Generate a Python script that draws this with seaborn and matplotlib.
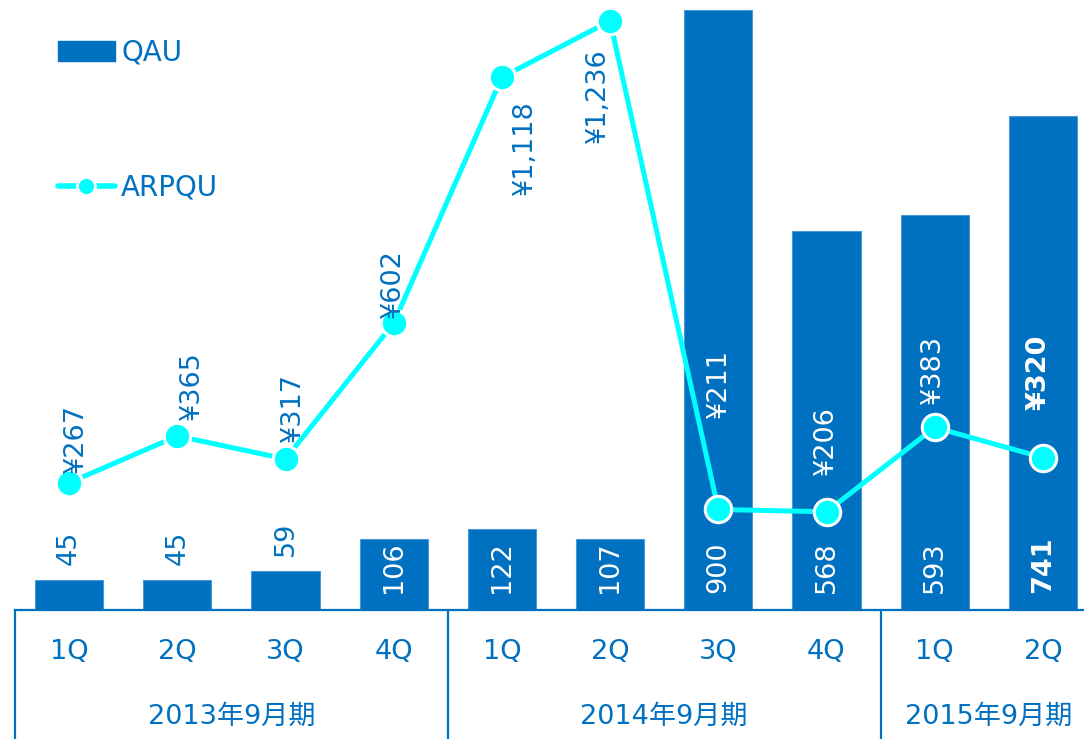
import numpy as np
import pandas as pd
import matplotlib
matplotlib.use("Agg")
import matplotlib.pyplot as plt
from matplotlib.patches import Patch
from matplotlib.lines import Line2D
import seaborn as sns

# ---- data ----
periods = ["FY13-1Q", "FY13-2Q", "FY13-3Q", "FY13-4Q",
           "FY14-1Q", "FY14-2Q", "FY14-3Q", "FY14-4Q",
           "FY15-1Q", "FY15-2Q"]
quarter_labels = ["1Q", "2Q", "3Q", "4Q", "1Q", "2Q", "3Q", "4Q", "1Q", "2Q"]
qau = [45, 45, 59, 106, 122, 107, 900, 568, 593, 741]
arpqu = [267, 365, 317, 602, 1118, 1236, 211, 206, 383, 320]
year_labels = ["2013年9月期", "2014年9月期", "2015年9月期"]
year_sizes = [4, 4, 2]

# ---- style ----
BLUE = "#0070C0"
CYAN = "#00FFFF"
sns.set_theme(style="white")
plt.rcParams["font.family"] = ["DejaVu Sans", "Noto Sans CJK JP"]

FS = 19.5
fig = plt.figure(figsize=(10.84, 7.39), dpi=100)
ax = fig.add_axes([15 / 1084, 129 / 739, 1082 / 1084, 610 / 739])

df = pd.DataFrame({"period": periods, "qau": qau, "arpqu": arpqu})
sns.barplot(data=df, x="period", y="qau", order=periods, color=BLUE,
            saturation=1, width=0.63, edgecolor="#4a98d6", linewidth=0.8, ax=ax)
ax.set_xlim(-0.5, len(periods) - 0.5)
ax.set_ylim(0, 915)
ax.set_xlabel("")
ax.set_ylabel("")
ax.set_yticks([])

ax2 = ax.twinx()
sns.lineplot(x=np.arange(len(periods)), y=arpqu, ax=ax2, color=CYAN, lw=3.6,
             marker="o", markersize=19, markerfacecolor=CYAN,
             markeredgecolor="white", markeredgewidth=2.2)
ax2.set_ylim(0, 1280)
ax2.set_xlim(-0.5, len(periods) - 0.5)
ax2.set_yticks([])
ax2.set_ylabel("")

for a in (ax, ax2):
    for s in ("top", "left", "right"):
        a.spines[s].set_visible(False)
ax2.spines["bottom"].set_visible(False)
ax.spines["bottom"].set_color(BLUE)
ax.spines["bottom"].set_linewidth(1.6)

# ---- bar value labels ----
for i, v in enumerate(qau):
    if v < 80:
        ax.annotate(f"{v}", xy=(i, v), xytext=(0, 15), textcoords="offset pixels",
                    rotation=90, ha="center", va="bottom", fontsize=FS, color=BLUE)
    else:
        ax.annotate(f"{v}", xy=(i, 0), xytext=(0, 17), textcoords="offset pixels",
                    rotation=90, ha="center", va="bottom", fontsize=FS, color="white",
                    fontweight="bold" if i == len(qau) - 1 else "normal")

# ---- ARPQU value labels (offsets in pixels from each point to the label centre) ----
label_offsets = [(7, 44), (15, 50), (7, 51), (-1, 40), (23, -70),
                 (-12, -75), (1, 126), (-1, 71), (-2, 58), (-4, 85)]
for i, v in enumerate(arpqu):
    on_bar = i >= 6
    dx, dy = label_offsets[i]
    ax2.annotate(f"¥{v:,}", xy=(i, v), xytext=(dx, dy), textcoords="offset pixels",
                 rotation=90, ha="center", va="center", fontsize=FS,
                 color="white" if on_bar else BLUE,
                 fontweight="bold" if i == len(arpqu) - 1 else "normal", zorder=5)

# ---- category axis ----
ax.set_xticks(range(len(periods)))
ax.set_xticklabels(quarter_labels, fontsize=FS, color=BLUE)
ax.tick_params(axis="x", which="major", length=0, pad=21)
ax.set_xticks(np.arange(-0.5, len(periods) - 0.4, 1.0), minor=True)
ax.tick_params(axis="x", which="minor", length=44, width=1.6, color=BLUE,
               direction="out")

xt = ax.get_xaxis_transform()
start = -0.5
for lab, n in zip(year_labels, year_sizes):
    ax.plot([start, start], [0, -0.25], transform=xt, color=BLUE, lw=1.6,
            clip_on=False)
    ax.text(start + n / 2, -107 / 610, lab, transform=xt, ha="center",
            va="center", fontsize=FS, color=BLUE)
    start += n

# ---- legend ----
handles = [Patch(facecolor=BLUE, edgecolor=BLUE),
           Line2D([], [], color=CYAN, lw=4, marker="o", markersize=13,
                  markerfacecolor=CYAN, markeredgecolor="white",
                  markeredgewidth=2)]
fig.legend(handles, ["QAU", "ARPQU"], loc="upper left",
           bbox_to_anchor=(58 / 1084, 1 - 39 / 739), bbox_transform=fig.transFigure,
           frameon=False, fontsize=20, labelcolor=BLUE, handlelength=2.05,
           handleheight=0.72, handletextpad=0.22, labelspacing=3.85,
           borderaxespad=0, borderpad=0)

fig.savefig("out.png", dpi=100)
